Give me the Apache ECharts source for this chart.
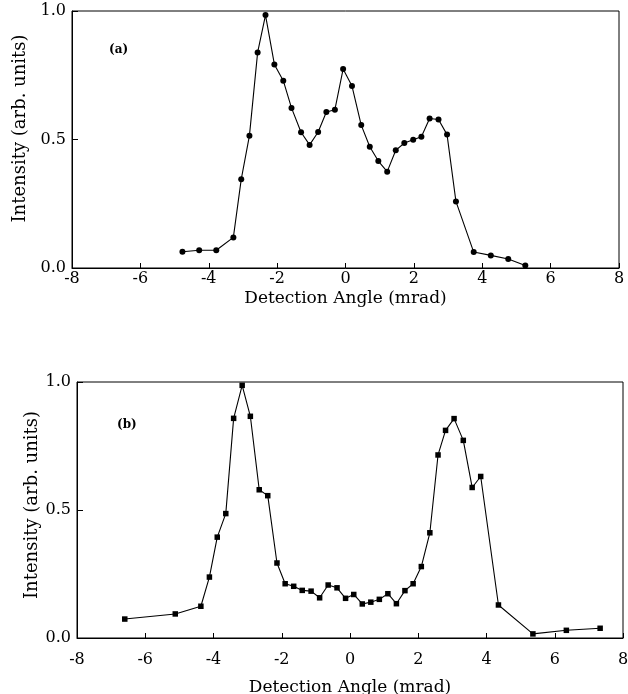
<!DOCTYPE html>
<html>
<head>
<meta charset="utf-8">
<script src="https://cdn.jsdelivr.net/npm/echarts@6/dist/echarts.min.js"></script>
<style>html,body{margin:0;padding:0;background:#fff;}#c{width:628px;height:694px;}</style>
</head>
<body>
<div id="c"></div>
<script>
// Panel (a)
var xA = [-4.77,-4.28,-3.78,-3.28,-3.05,-2.81,-2.57,-2.34,-2.08,-1.82,-1.58,-1.30,-1.05,-0.80,-0.56,-0.31,-0.07,0.19,0.46,0.71,0.96,1.22,1.47,1.72,1.98,2.22,2.46,2.72,2.97,3.23,3.75,4.25,4.76,5.26];
var yA = [0.063,0.069,0.069,0.119,0.345,0.515,0.839,0.984,0.792,0.729,0.623,0.528,0.479,0.529,0.607,0.616,0.774,0.708,0.556,0.472,0.416,0.375,0.458,0.486,0.499,0.511,0.582,0.578,0.519,0.259,0.062,0.049,0.035,0.010];
// Panel (b)
var xB = [-6.60,-5.12,-4.37,-4.12,-3.89,-3.64,-3.41,-3.16,-2.92,-2.66,-2.41,-2.14,-1.90,-1.65,-1.40,-1.14,-0.89,-0.64,-0.38,-0.13,0.11,0.36,0.61,0.86,1.11,1.36,1.61,1.85,2.09,2.34,2.58,2.80,3.05,3.32,3.58,3.83,4.35,5.36,6.34,7.33];
var yB = [0.074,0.094,0.124,0.238,0.394,0.486,0.858,0.987,0.866,0.579,0.556,0.293,0.212,0.202,0.186,0.183,0.157,0.207,0.196,0.155,0.170,0.133,0.140,0.151,0.173,0.134,0.185,0.212,0.279,0.411,0.715,0.811,0.857,0.772,0.588,0.631,0.129,0.016,0.030,0.038];
var xTicks = [-8,-6,-4,-2,0,2,4,6,8];
var yTicks = [0.0,0.5,1.0];
var xTitle = 'Detection Angle (mrad)';
var yTitle = 'Intensity (arb. units)';
var panelLabels = ['(a)','(b)'];

function zip(xs, ys){ return xs.map(function(x,i){ return [x, ys[i]]; }); }

var FONT = 'DejaVu Serif';
function xAxisCfg(gi, margin, gap){
  return {
    type:'value', gridIndex:gi, min:xTicks[0], max:xTicks[xTicks.length-1], interval:2,
    axisLine:{show:true, onZero:false, lineStyle:{color:'#000', width:1}},
    axisTick:{show:true, inside:true, length:5, lineStyle:{color:'#000'}},
    splitLine:{show:false},
    axisLabel:{color:'#000', fontFamily:FONT, fontSize:16, margin:margin, showMinLabel:true, showMaxLabel:true},
    name:xTitle, nameLocation:'middle', nameGap:gap, nameMoveOverlap:false,
    nameTextStyle:{color:'#000', fontFamily:FONT, fontSize:17}
  };
}
function yAxisCfg(gi, gap, shift){
  return {
    type:'value', gridIndex:gi, min:yTicks[0], max:yTicks[yTicks.length-1], interval:0.5,
    axisLine:{show:true, onZero:false, lineStyle:{color:'#000', width:1}},
    axisTick:{show:true, inside:true, length:6, lineStyle:{color:'#000'}},
    splitLine:{show:false},
    axisLabel:{color:'#000', fontFamily:FONT, fontSize:16, margin:6, formatter:function(v){return v.toFixed(1);}},
    name:yTitle, nameLocation:'middle', nameGap:gap, nameRotate:90, nameMoveOverlap:false,
    nameTextStyle:{color:'#000', fontFamily:FONT, fontSize:18, padding:[0,0,0,shift]}
  };
}

var chart = echarts.init(document.getElementById('c'), null, {renderer:'canvas'});
chart.setOption({
  backgroundColor:'#fff',
  animation:false,
  grid:[
    {left:72, top:11, width:547, height:257, show:true, borderColor:'#000', borderWidth:1, backgroundColor:'transparent', containLabel:false, outerBoundsMode:'none'},
    {left:77, top:382, width:546, height:256, show:true, borderColor:'#000', borderWidth:1, backgroundColor:'transparent', containLabel:false, outerBoundsMode:'none'}
  ],
  xAxis:[xAxisCfg(0, 3, 22), xAxisCfg(1, 14, 41)],
  yAxis:[yAxisCfg(0, 43, 22), yAxisCfg(1, 36, 10)],
  graphic:[
    {type:'text', left:109, top:44, style:{text:panelLabels[0], font:'bold 12px "DejaVu Serif"', fill:'#000'}},
    {type:'text', left:117, top:419, style:{text:panelLabels[1], font:'bold 12px "DejaVu Serif"', fill:'#000'}}
  ],
  series:[
    {type:'line', xAxisIndex:0, yAxisIndex:0, data:zip(xA,yA), symbol:'circle', symbolSize:6,
     lineStyle:{color:'#000', width:1.1}, itemStyle:{color:'#000'}},
    {type:'line', xAxisIndex:1, yAxisIndex:1, data:zip(xB,yB), symbol:'rect', symbolSize:5.5,
     lineStyle:{color:'#000', width:1.1}, itemStyle:{color:'#000'}}
  ]
});
</script>
</body>
</html>
